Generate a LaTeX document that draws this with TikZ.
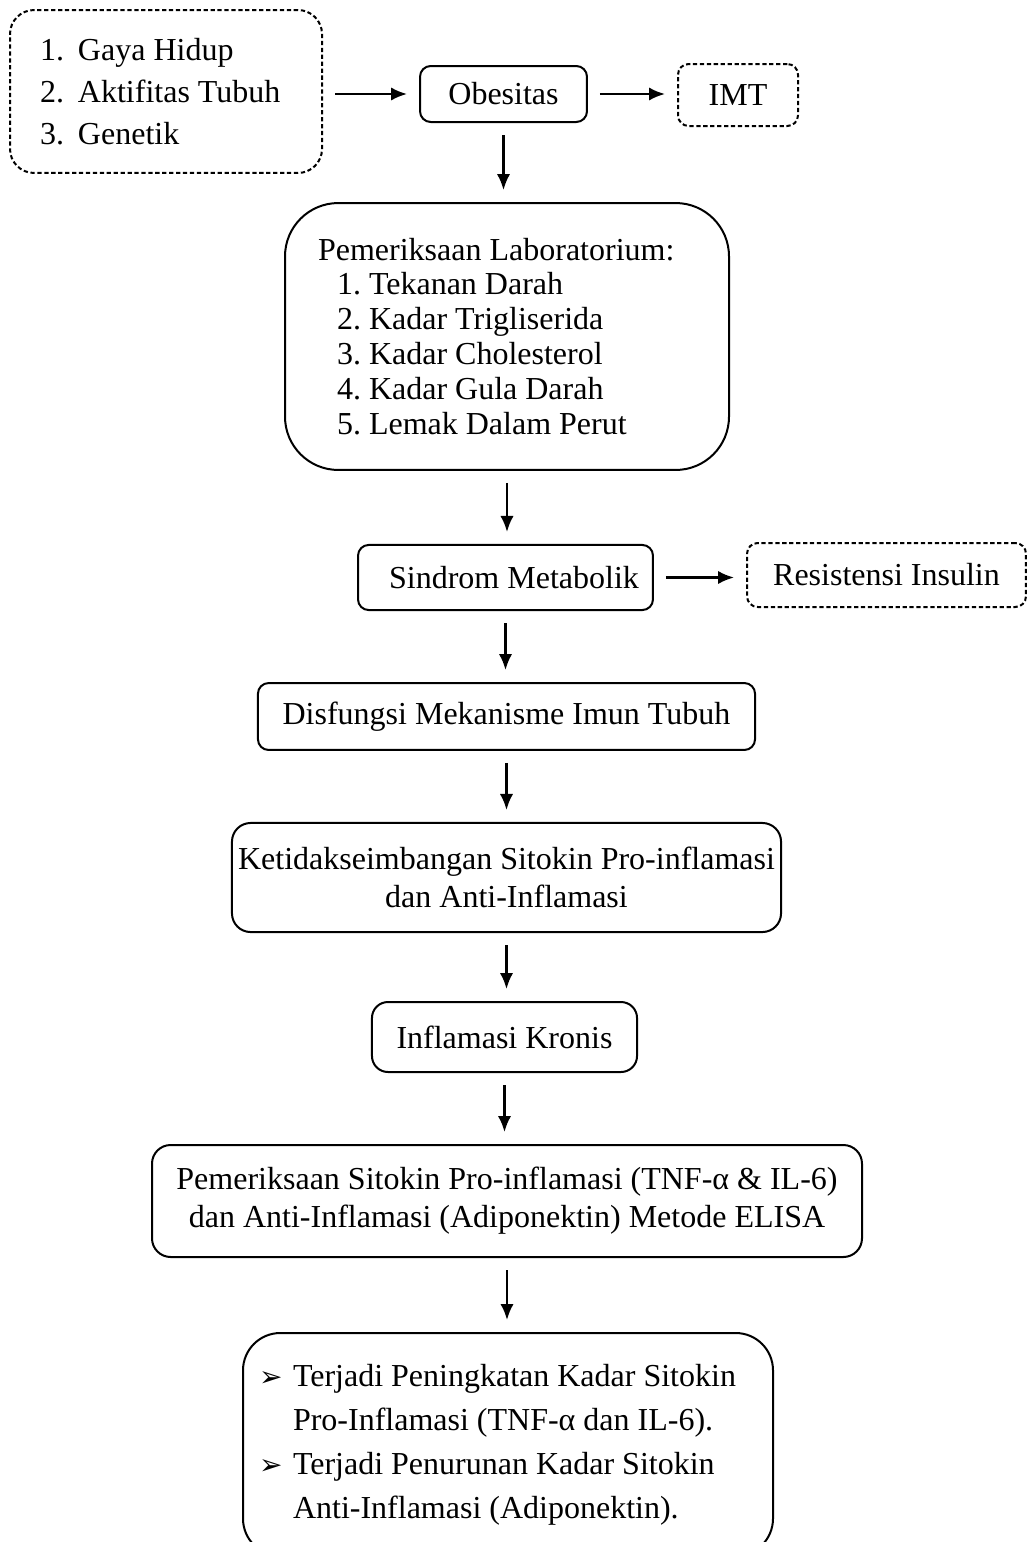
\documentclass[tikz,border=0pt]{standalone}
\usepackage{fontspec}
\setmainfont{Liberation Serif}
\newfontfamily\symfont{DejaVu Sans}
\usetikzlibrary{arrows.meta}

\begin{document}
\begin{tikzpicture}[x=0.375pt,y=-0.375pt,>={Latex[length=6pt,width=5pt]}]
\tikzstyle{block}=[rectangle,draw=black,line width=0.75pt,rounded corners=4pt,inner sep=0pt,font=\fontsize{12}{15}\selectfont]
\tikzstyle{dblock}=[block,dash pattern=on 1.6pt off 1pt]
\tikzstyle{arr}=[->,line width=0.9pt,shorten <=4.5pt,shorten >=4.5pt]
\useasboundingbox (0,0) rectangle (1028,1542);
\clip (0,0) rectangle (1028,1542);
\node[dblock,rounded corners=9pt,minimum height=61.1pt,text width=94.5pt,inner xsep=11.25pt,align=flush left,font=\fontsize{12}{15.75}\selectfont] (a) at (166,91.5) {\makebox[14.25pt][l]{1.}Gaya Hidup\\\makebox[14.25pt][l]{2.}Aktifitas Tubuh\\\makebox[14.25pt][l]{3.}Genetik};
\node[block,minimum width=62.6pt,minimum height=21pt] (b) at (503.5,94) {Obesitas};
\node[dblock,minimum width=45pt,minimum height=23.25pt] (c) at (738,95) {IMT};
\node[block,rounded corners=20pt,minimum height=100.1pt,text width=141.7pt,inner xsep=12.4pt,align=flush left,font=\fontsize{12}{13.1}\selectfont] (d) at (507,336.5) {Pemeriksaan Laboratorium:\\\hspace*{7.1pt}1.\ Tekanan Darah\\\hspace*{7.1pt}2.\ Kadar Trigliserida\\\hspace*{7.1pt}3.\ Kadar Cholesterol\\\hspace*{7.1pt}4.\ Kadar Gula Darah\\\hspace*{7.1pt}5.\ Lemak Dalam Perut};
\node[block,minimum width=110.6pt,minimum height=24.4pt] (e) at (505.5,577.5) {\hspace*{6.4pt}Sindrom Metabolik};
\node[dblock,minimum width=104.6pt,minimum height=24pt] (f) at (886.5,575) {Resistensi Insulin};
\node[block,minimum width=186.4pt,minimum height=25.1pt] (g) at (506.5,716.5) {Disfungsi Mekanisme Imun Tubuh};
\node[block,rounded corners=7pt,minimum width=205.9pt,minimum height=40.9pt,align=center,font=\fontsize{12}{14.25}\selectfont] (h) at (506.5,877.5) {Ketidakseimbangan Sitokin Pro-inflamasi\\dan Anti-Inflamasi};
\node[block,rounded corners=6pt,minimum width=99.4pt,minimum height=26.25pt] (i) at (504.5,1037) {Inflamasi Kronis};
\node[block,rounded corners=7pt,minimum width=266.25pt,minimum height=42pt,align=center,font=\fontsize{12}{14.25}\selectfont] (j) at (507,1201) {Pemeriksaan Sitokin Pro-inflamasi (TNF-α \& IL-6)\\dan Anti-Inflamasi (Adiponektin) Metode ELISA};
\node[block,rounded corners=14pt,anchor=north,minimum height=83.6pt,text width=186.75pt,inner xsep=6pt,align=flush left,font=\fontsize{12}{16.5}\selectfont] (k) at (508,1332) {\makebox[12.75pt][l]{\symfont\fontsize{10.5}{10.5}\selectfont ➢}Terjadi Peningkatan Kadar Sitokin\\\hspace*{12.75pt}Pro-Inflamasi (TNF-α dan IL-6).\\\makebox[12.75pt][l]{\symfont\fontsize{10.5}{10.5}\selectfont ➢}Terjadi Penurunan Kadar Sitokin\\\hspace*{12.75pt}Anti-Inflamasi (Adiponektin).};
\draw[arr] (a.east |- b.west) -- (b.west);
\draw[arr] (b.east) -- (b.east -| c.west);
\draw[arr] (b.south) -- (b.south |- d.north);
\draw[arr] (d.south) -- (d.south |- e.north);
\draw[arr] (e.east) -- (e.east -| f.west);
\draw[arr] (e.south) -- (e.south |- g.north);
\draw[arr] (g.south) -- (g.south |- h.north);
\draw[arr] (h.south) -- (h.south |- i.north);
\draw[arr] (i.south) -- (i.south |- j.north);
\draw[arr] (j.south) -- (j.south |- k.north);
\end{tikzpicture}
\end{document}
